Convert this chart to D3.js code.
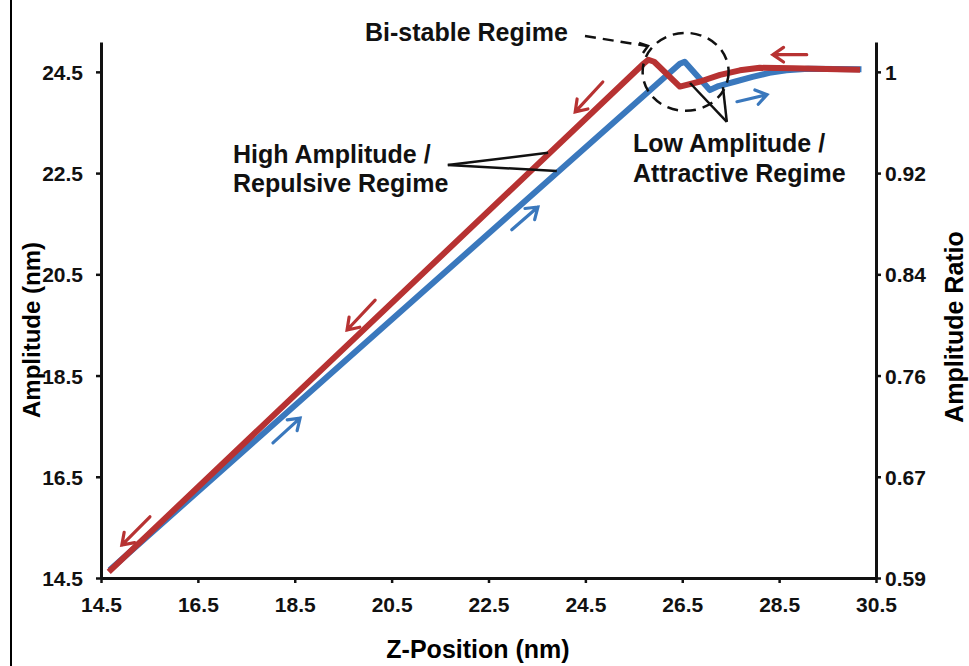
<!DOCTYPE html>
<html>
<head>
<meta charset="utf-8">
<script src="https://cdnjs.cloudflare.com/ajax/libs/d3/7.8.5/d3.min.js"></script>
<style>
    body { margin: 0; background: #fff; }
    svg { display: block; font-family: "Liberation Sans", Arial, sans-serif; font-weight: bold; }
</style>
</head>
<body>
<svg id="chart" width="969" height="666"></svg>
<script>
// Z-position (nm) vs amplitude (nm)
const approachZ   = [14.68, 26.45, 26.55, 27.07, 27.25, 27.6, 27.95, 28.3, 28.65, 29.1, 30.2];
const approachAmp = [14.66, 24.66, 24.70, 24.14, 24.22, 24.31, 24.40, 24.48, 24.53, 24.56, 24.55];
const retractZ    = [14.66, 25.7, 25.8, 25.92, 26.45, 26.87, 27.28, 27.69, 28.1, 28.79, 30.17];
const retractAmp  = [14.62, 24.66, 24.74, 24.70, 24.21, 24.31, 24.44, 24.53, 24.58, 24.57, 24.54];

const zTicks = [14.5, 16.5, 18.5, 20.5, 22.5, 24.5, 26.5, 28.5, 30.5];
const ampTicks = [14.5, 16.5, 18.5, 20.5, 22.5, 24.5];
const refAmp = 24.5; // free amplitude, ratio = amp / refAmp

// direction arrows [z tail, amp tail, z head, amp head]
const retractArrows = [
    [15.51, 15.71, 14.93, 15.15],
    [20.16, 19.99, 19.58, 19.40],
    [24.86, 24.30, 24.29, 23.71],
    [29.07, 24.84, 28.37, 24.84]
];
const approachArrows = [
    [18.05, 17.17, 18.61, 17.66],
    [22.98, 21.38, 23.52, 21.83],
    [27.63, 23.91, 28.25, 24.05]
];

const RED = '#b73232';
const BLUE = '#3a78bd';

const svg = d3.select('#chart');

const x = d3.scaleLinear().domain([14.5, 30.5]).range([101, 876]);
const y = d3.scaleLinear().domain([14.5, 25.09]).range([578, 42]);
const yRatio = d3.scaleLinear().domain(y.domain().map(v => v / refAmp)).range(y.range());

// left border line
svg.append('line')
    .attr('x1', 11).attr('x2', 11)
    .attr('y1', 0).attr('y2', 666)
    .attr('stroke', '#000').attr('stroke-width', 2);

// axes
const fmtRatio = v => Math.abs(v - 1) < 1e-9 ? '1' : d3.format('.2f')(v);

const xAxis = svg.append('g')
    .attr('transform', 'translate(0,578)')
    .call(d3.axisBottom(x).tickValues(zTicks).tickFormat(d3.format('.1f')).tickSize(5).tickSizeOuter(0));
const yAxis = svg.append('g')
    .attr('transform', 'translate(101,0)')
    .call(d3.axisLeft(y).tickValues(ampTicks).tickFormat(d3.format('.1f')).tickSize(5).tickSizeOuter(0));
const yAxisR = svg.append('g')
    .attr('transform', 'translate(876,0)')
    .call(d3.axisRight(yRatio).tickValues(ampTicks.map(v => v / refAmp)).tickFormat(fmtRatio).tickSize(5).tickSizeOuter(0));

[xAxis, yAxis, yAxisR].forEach(g => {
    g.attr('font-family', null).attr('font-size', null);
    g.select('.domain').attr('stroke', '#111').attr('stroke-width', 3);
    g.selectAll('.tick line').attr('stroke', '#111').attr('stroke-width', 2.5);
    g.selectAll('.tick text').attr('fill', '#111').style('font-size', '21px');
});
xAxis.selectAll('.tick text').attr('dy', '1.25em');
yAxis.selectAll('.tick text').attr('x', -18).attr('dy', '0.36em');
yAxisR.selectAll('.tick text').attr('x', 9).attr('dy', '0.36em');

// axis titles
svg.append('text')
    .attr('x', 478).attr('y', 658)
    .attr('text-anchor', 'middle')
    .style('font-size', '25px')
    .text('Z-Position (nm)');
svg.append('text')
    .attr('transform', 'translate(40,330) rotate(-90)')
    .attr('text-anchor', 'middle')
    .style('font-size', '24px')
    .text('Amplitude (nm)');
svg.append('text')
    .attr('transform', 'translate(963,327) rotate(-90)')
    .attr('text-anchor', 'middle')
    .style('font-size', '25px')
    .text('Amplitude Ratio');

// curves
const line = d3.line().x(d => x(d[0])).y(d => y(d[1]));
const approach = d3.zip(approachZ, approachAmp);
const retract = d3.zip(retractZ, retractAmp);

svg.append('path')
    .attr('d', line(approach))
    .attr('fill', 'none').attr('stroke', BLUE)
    .attr('stroke-width', 6).attr('stroke-linejoin', 'round');
svg.append('path')
    .attr('d', line(retract))
    .attr('fill', 'none').attr('stroke', RED)
    .attr('stroke-width', 6).attr('stroke-linejoin', 'round');

// open arrow: shaft + two wings at the head
function arrowPath(x1, y1, x2, y2, len, ang) {
    const a = Math.atan2(y1 - y2, x1 - x2);
    const w1 = [x2 + len * Math.cos(a + ang), y2 + len * Math.sin(a + ang)];
    const w2 = [x2 + len * Math.cos(a - ang), y2 + len * Math.sin(a - ang)];
    return 'M' + x1 + ',' + y1 + 'L' + x2 + ',' + y2 +
        'M' + w1[0] + ',' + w1[1] + 'L' + x2 + ',' + y2 + 'L' + w2[0] + ',' + w2[1];
}

function drawArrows(list, color) {
    svg.append('g').selectAll('path')
        .data(list)
        .join('path')
        .attr('d', d => arrowPath(x(d[0]), y(d[1]), x(d[2]), y(d[3]), 13, 0.6))
        .attr('fill', 'none')
        .attr('stroke', color)
        .attr('stroke-width', 3.2)
        .attr('stroke-linecap', 'round')
        .attr('stroke-linejoin', 'miter');
}
drawArrows(retractArrows, RED);
drawArrows(approachArrows, BLUE);

// annotations
const notes = svg.append('g').style('font-size', '25px').attr('fill', '#111');
notes.append('text').attr('x', 365).attr('y', 41).text('Bi-stable Regime');
notes.append('text').attr('x', 233).attr('y', 163).text('High Amplitude /');
notes.append('text').attr('x', 233).attr('y', 192).text('Repulsive Regime');
notes.append('text').attr('x', 633).attr('y', 152).text('Low Amplitude /');
notes.append('text').attr('x', 633).attr('y', 182).text('Attractive Regime');

// leader lines (data coords)
const leaders = [
    [21.66, 22.66, 23.73, 22.90],
    [21.66, 22.66, 23.91, 22.54],
    [27.42, 23.51, 26.66, 24.28],
    [27.42, 23.51, 27.34, 24.20]
];
svg.append('g').selectAll('line')
    .data(leaders)
    .join('line')
    .attr('x1', d => x(d[0])).attr('y1', d => y(d[1]))
    .attr('x2', d => x(d[2])).attr('y2', d => y(d[3]))
    .attr('stroke', '#111').attr('stroke-width', 2.5);

// bi-stable dashed circle + dashed pointer
const cz = 26.57, ca = 24.5;
svg.append('ellipse')
    .attr('cx', x(cz)).attr('cy', y(ca))
    .attr('rx', 43).attr('ry', 39)
    .attr('fill', 'none').attr('stroke', '#111')
    .attr('stroke-width', 2.5).attr('stroke-dasharray', '11,7');
svg.append('path')
    .attr('d', arrowPath(585, 36, 647, 46, 0, 0))
    .attr('fill', 'none').attr('stroke', '#111')
    .attr('stroke-width', 2.5).attr('stroke-dasharray', '11,7');
svg.append('path')
    .attr('d', 'M639,43L648,46L643,53')
    .attr('fill', 'none').attr('stroke', '#111').attr('stroke-width', 2.5);
</script>
</body>
</html>
